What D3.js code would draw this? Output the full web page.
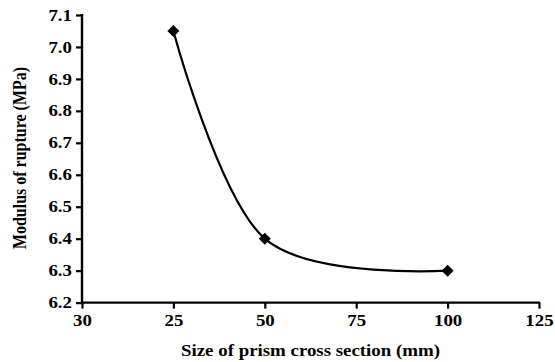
<!DOCTYPE html>
<html><head><meta charset="utf-8">
<script src="https://cdn.jsdelivr.net/npm/d3@7"></script>
<style>body{margin:0;background:#fff}svg{display:block}</style>
</head><body>
<script>
const xTickLabels = ["30","25","50","75","100","125"];
const yTicks = [6.2,6.3,6.4,6.5,6.6,6.7,6.8,6.9,7.0,7.1];
const categories = ["25","50","100"];
const values = [7.05, 6.40, 6.30];
const W=555,H=362, SX=1.18;
const svg=d3.select("body").append("svg").attr("width",W).attr("height",H);
const x=d3.scalePoint().domain(xTickLabels).range([82,539]);
const y=d3.scaleLinear().domain([6.2,7.1]).range([302.6,15]);
const font="'Liberation Serif','Times New Roman',serif";
const gx=svg.append("g").attr("transform","translate(0,302.6)")
  .call(d3.axisBottom(x).tickSizeOuter(0).tickSize(6).tickPadding(6));
const gy=svg.append("g").attr("transform","translate(82,0)")
  .call(d3.axisLeft(y).tickValues(yTicks).tickFormat(d3.format(".1f")).tickSizeOuter(0).tickSize(6).tickPadding(4));
[gx,gy].forEach(g=>{
  g.selectAll("path.domain").attr("stroke","#000").attr("stroke-width",2.4);
  g.selectAll(".tick line").attr("stroke","#000").attr("stroke-width",2.2);
  g.selectAll("text").attr("font-family",font).attr("font-weight","bold").attr("font-size",16).attr("fill","#000");
});
gx.selectAll(".tick text").attr("transform",`scale(${SX},1)`);
gy.selectAll(".tick text").each(function(){
  const t=d3.select(this), tx=+t.attr("x");
  t.attr("transform",`translate(${tx},0) scale(${SX},1) translate(${-tx},0)`);
});
gx.select("path.domain").attr("d","M82,0H540");
gy.select("path.domain").attr("d","M0,14V303.6");
const pts=categories.map((c,i)=>[x(c),y(values[i])]);
svg.append("path").datum(pts)
  .attr("d",d3.line().curve(d3.curveCardinal.tension(0)))
  .attr("fill","none").attr("stroke","#000").attr("stroke-width",2.2);
svg.selectAll(".m").data(pts).enter().append("path")
  .attr("d",d3.symbol(d3.symbolSquare,72)())
  .attr("transform",d=>`translate(${d[0]},${d[1]}) rotate(45)`)
  .attr("fill","#000");
svg.append("text").attr("transform",`translate(310.5,356) scale(${SX},1)`).attr("text-anchor","middle")
  .attr("font-family",font).attr("font-weight","bold").attr("font-size",16)
  .text("Size of prism cross section (mm)");
svg.append("text").attr("transform",`translate(26,158) scale(${SX},1) rotate(-90)`).attr("text-anchor","middle")
  .attr("font-family",font).attr("font-weight","bold").attr("font-size",16)
  .text("Modulus of rupture (MPa)");
</script>
</body></html>
